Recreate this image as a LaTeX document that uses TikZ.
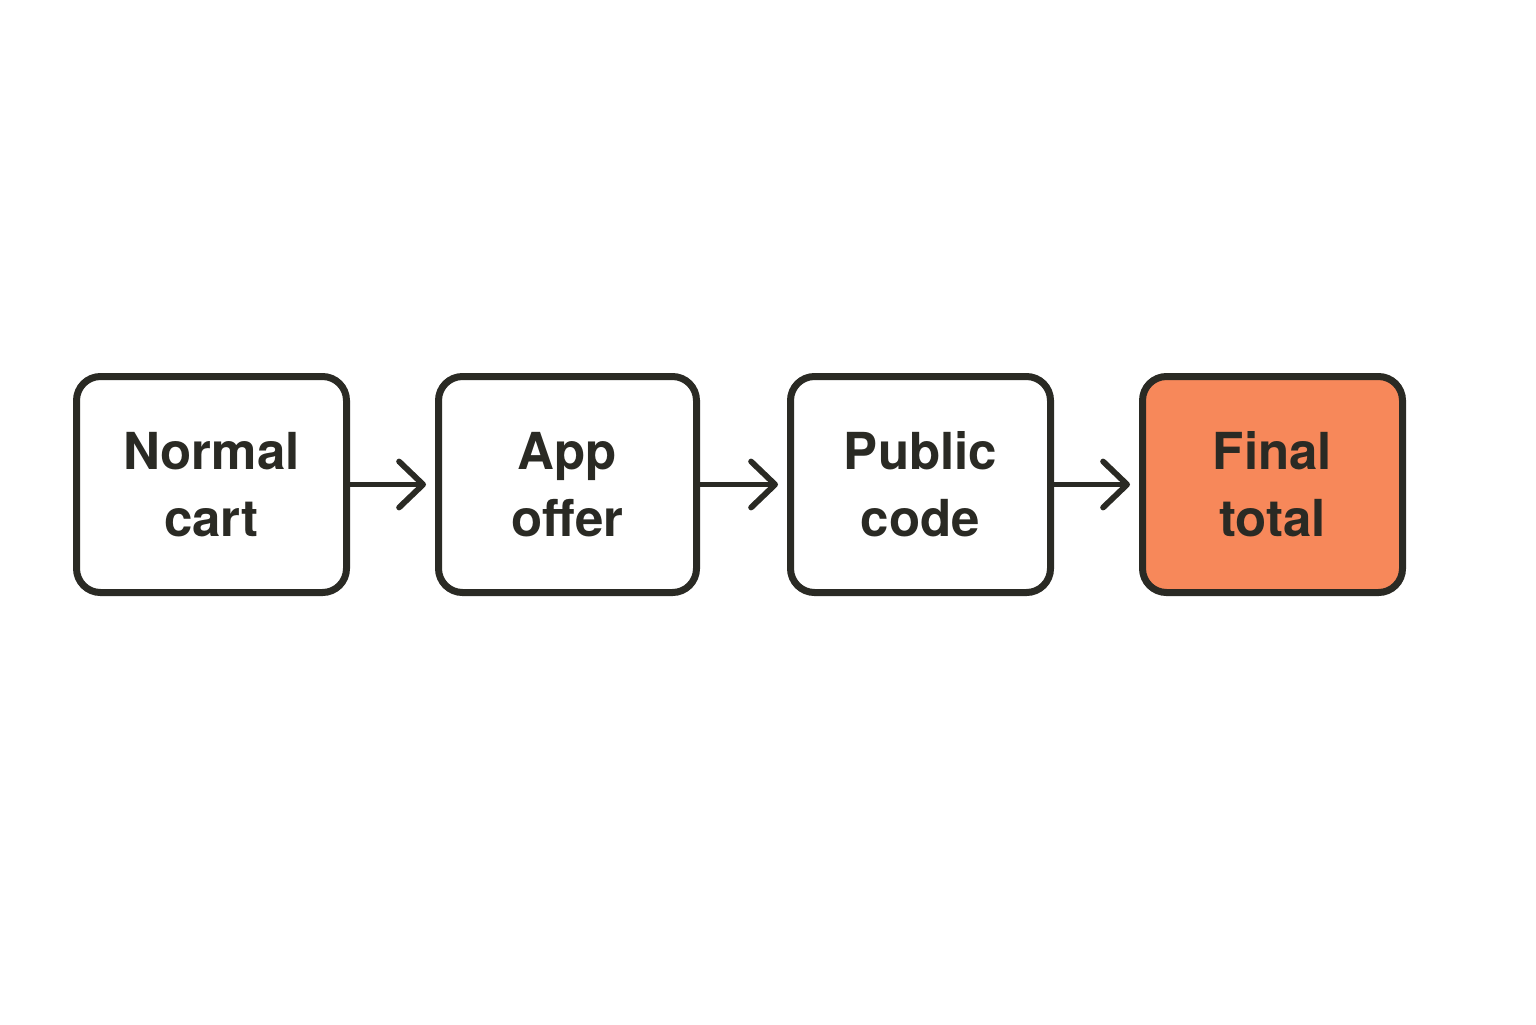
\documentclass[tikz,border=0pt]{standalone}
\usepackage{fontspec}
\setmainfont{TeX Gyre Heros}
\usetikzlibrary{arrows.meta}
\definecolor{ink}{HTML}{2A2A24}
\definecolor{salmon}{HTML}{F7885A}
\begin{document}
\begin{tikzpicture}[
    x=0.5pt, y=-0.5pt,
    box/.style={draw=ink, line width=3.5pt, rounded corners=12pt, minimum width=#1, minimum height=108pt, align=center, font=\fontsize{25.5}{33.5}\selectfont\bfseries, text=ink, fill=white},
    arrow/.style={-{Straight Barb[length=12pt, width=23pt, line width=2.9pt, round]}, line width=2.9pt, draw=ink, shorten >=4.5pt}
]
    \useasboundingbox (0,0) rectangle (1536,1024);

    % Steps
    \node[box=135pt] (cart) at (211.5, 484.5) {Normal\\cart};
    \node[box=129pt] (app) at (567.5, 484.5) {App\\offer};
    \node[box=130pt] (code) at (920.5, 484.5) {Public\\code};
    \node[box=130pt, fill=salmon] (total) at (1272.5, 484.5) {Final\\total};

    % Arrows
    \draw[arrow] (cart) -- (app);
    \draw[arrow] (app) -- (code);
    \draw[arrow] (code) -- (total);
\end{tikzpicture}
\end{document}
